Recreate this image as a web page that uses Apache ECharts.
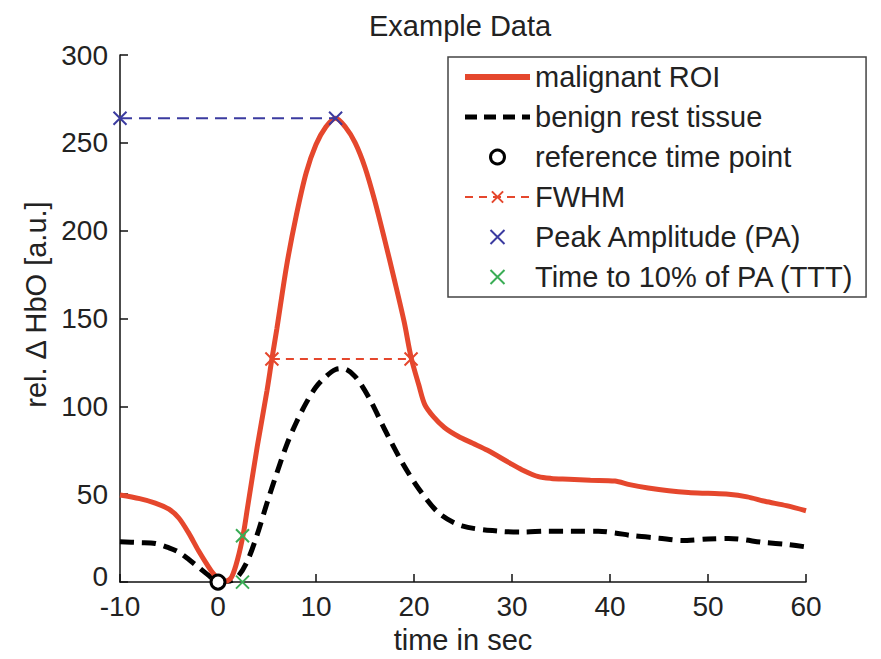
<!DOCTYPE html>
<html><head><meta charset="utf-8">
<script src="https://cdn.jsdelivr.net/npm/echarts@6/dist/echarts.min.js"></script>
<style>html,body{margin:0;padding:0;background:#fff}#c{width:881px;height:659px}</style>
</head><body><div id="c"></div>
<script>
// ---- data ----
const redT = [-10, -8, -6.4, -5, -4, -3, -2, -1, -0.5, 0, 0.8, 1.4, 2, 2.6, 3, 4, 5, 5.5, 6, 7, 8, 9, 10, 11, 12, 13, 14, 15, 16, 17, 18, 19, 19.7, 20.5, 21.1, 22, 23.1, 24.5, 26, 27.5, 29.7, 31, 32.7, 34, 35.8, 38, 40.5, 42, 43.9, 46, 48, 50, 52.1, 54, 55.8, 58, 60];
const redV = [49.6, 47.5, 45, 41.5, 36.5, 28, 18, 9, 5, 2, 0.5, 3, 13, 28, 42, 77, 109, 127, 144, 180, 209, 233, 249, 259, 264, 259, 250, 236, 217, 195, 172, 148, 128, 112, 101, 94, 88, 83, 79, 75, 68, 64, 60, 59, 58.6, 58, 57.5, 55.5, 53.6, 52, 51, 50.5, 50, 48.5, 46, 43.5, 40.6];
const blackT = [-10, -8, -6.4, -5, -4, -3, -2, -1, 0, 1, 2, 3, 4, 5, 6, 7, 8, 9, 10, 11, 12, 12.8, 14, 15.4, 17, 18.8, 20.5, 22.5, 24.9, 28.6, 31, 33.7, 36, 38.8, 40.5, 42.2, 45, 47.3, 50, 52.1, 55.8, 58, 60];
const blackV = [23, 22.5, 22, 19.5, 17, 13, 8.5, 4, 0.5, 0.5, 3, 12, 27, 45, 62, 78, 91, 102, 111, 117, 121, 121.5, 117, 105, 87, 68, 53, 39.5, 32, 29, 28.5, 29, 29, 29, 28, 26.5, 25, 23.7, 24.5, 24.8, 22.5, 21.5, 20];
const refPoint = [0, 0];
const fwhmT = [5.5, 19.7];
const fwhmV = [127, 127];
const paT = [-10, 12];
const paV = [264, 264];
const tttT = [2.5, 2.5];
const tttV = [26.4, 0];
const xTicks = {min: -10, max: 60, interval: 10};
const yTicks = {min: 0, max: 300, interval: 50};
const names = ['malignant ROI', 'benign rest tissue', 'reference time point', 'FWHM', 'Peak Amplitude (PA)', 'Time to 10% of PA (TTT)'];

const zip = (a, b) => a.map((t, i) => [t, b[i]]);
const RED = '#e5472d', BLUE = '#3b3ba0', GREEN = '#3aad55';
const XSYM = 'path://M0,0L10,10M0,10L10,0';
const FONT = 'Liberation Sans, Arial, sans-serif';

const chart = echarts.init(document.getElementById('c'), null, {renderer: 'svg'});
chart.setOption({
  animation: false,
  backgroundColor: '#fff',
  title: {
    text: 'Example Data', left: 364, top: 6,
    textStyle: {fontFamily: FONT, fontSize: 29, fontWeight: 'normal', color: '#222'}
  },
  grid: {left: 120, right: 75, top: 55, bottom: 72, show: false},
  xAxis: {
    type: 'value', min: xTicks.min, max: xTicks.max, interval: xTicks.interval,
    name: 'time in sec', nameLocation: 'middle', nameGap: 38,
    nameTextStyle: {fontFamily: FONT, fontSize: 29, color: '#222'},
    axisLine: {show: true, onZero: false, lineStyle: {color: '#111', width: 1.5}},
    axisTick: {show: true, inside: true, length: 8, lineStyle: {color: '#111', width: 1.5}},
    axisLabel: {fontFamily: FONT, fontSize: 28, color: '#222', margin: 12, lineHeight: 24},
    splitLine: {show: false}
  },
  yAxis: {
    type: 'value', min: yTicks.min, max: yTicks.max, interval: yTicks.interval,
    name: 'rel. \u0394 HbO [a.u.]', nameLocation: 'middle', nameGap: 70, nameRotate: 90,
    nameTextStyle: {fontFamily: FONT, fontSize: 29, color: '#222', padding: [0, 0, 0, 28]},
    axisLine: {show: true, onZero: false, lineStyle: {color: '#111', width: 1.5}},
    axisTick: {show: true, inside: true, length: 8, lineStyle: {color: '#111', width: 1.5}},
    axisLabel: {
      fontFamily: FONT, fontSize: 28, color: '#222', margin: 12, lineHeight: 18,
      formatter: v => (v === 0 ? '{z|0}' : String(v)),
      rich: {z: {fontFamily: FONT, fontSize: 28, color: '#222', lineHeight: 18, padding: [0, 0, 12, 0]}}
    },
    splitLine: {show: false}
  },
  legend: {
    orient: 'vertical', left: 448, top: 57,
    padding: [5, 12, 5, 14], itemGap: 10, itemWidth: 65, itemHeight: 14,
    backgroundColor: '#fff', borderColor: '#444', borderWidth: 1.5,
    selectedMode: false,
    textStyle: {fontFamily: FONT, fontSize: 29, color: '#222', lineHeight: 30},
    data: [
      {name: names[0], lineStyle: {width: 6, color: RED}, itemStyle: {opacity: 0}},
      {name: names[1], lineStyle: {width: 5, color: '#000', type: [12, 7]}, itemStyle: {opacity: 0}},
      {name: names[2], icon: 'circle', itemStyle: {color: '#fff', borderColor: '#000', borderWidth: 3}},
      {name: names[3], lineStyle: {width: 2, color: RED, type: [8, 6]}, itemStyle: {color: RED, borderColor: RED, borderWidth: 2}},
      {name: names[4], icon: XSYM, itemStyle: {color: BLUE, borderColor: BLUE, borderWidth: 2}},
      {name: names[5], icon: XSYM, itemStyle: {color: GREEN, borderColor: GREEN, borderWidth: 2}}
    ]
  },
  series: [
    {
      name: names[0], type: 'line', data: zip(redT, redV), smooth: 0.3,
      symbol: 'none', lineStyle: {color: RED, width: 5}, itemStyle: {color: RED}, z: 3
    },
    {
      name: names[1], type: 'line', data: zip(blackT, blackV), smooth: 0.3,
      symbol: 'none', lineStyle: {color: '#000', width: 5, type: [14, 8]}, itemStyle: {color: '#000'}, z: 2
    },
    {
      name: names[3], type: 'line', data: zip(fwhmT, fwhmV),
      symbol: XSYM, symbolSize: 13, showSymbol: true,
      lineStyle: {color: RED, width: 2, type: [8, 6]},
      itemStyle: {color: RED, borderColor: RED, borderWidth: 2}, z: 4
    },
    {
      name: names[4], type: 'line', data: zip(paT, paV), clip: false,
      symbol: XSYM, symbolSize: 13, showSymbol: true,
      lineStyle: {color: BLUE, width: 2, type: [12, 7]},
      itemStyle: {color: BLUE, borderColor: BLUE, borderWidth: 2}, z: 4
    },
    {
      name: names[5], type: 'line', data: zip(tttT, tttV), clip: false,
      symbol: XSYM, symbolSize: 13, showSymbol: true,
      lineStyle: {width: 0, opacity: 0},
      itemStyle: {color: GREEN, borderColor: GREEN, borderWidth: 2}, z: 5
    },
    {
      name: names[2], type: 'line', data: [refPoint], clip: false,
      symbol: 'circle', symbolSize: 14, showSymbol: true,
      lineStyle: {width: 0},
      itemStyle: {color: '#fff', borderColor: '#000', borderWidth: 3}, z: 6
    }
  ]
});
</script>
</body></html>
